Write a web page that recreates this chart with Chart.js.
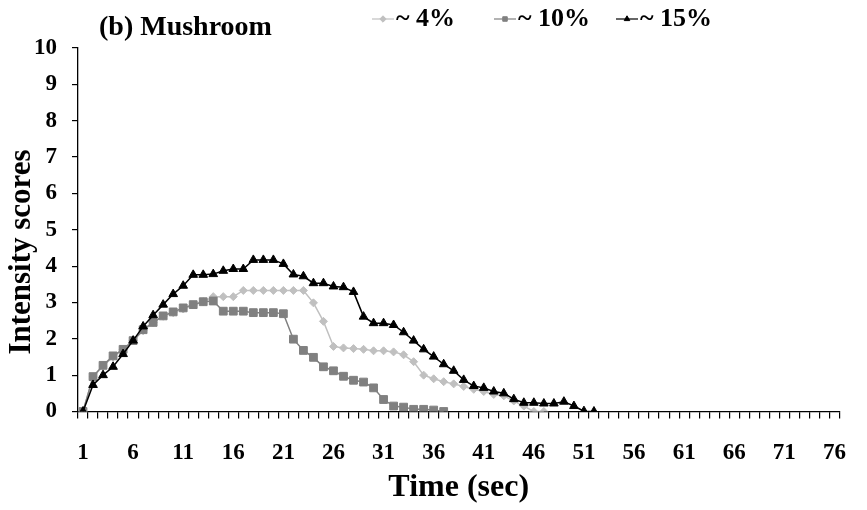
<!DOCTYPE html>
<html>
<head>
<meta charset="utf-8">
<script src="https://cdn.jsdelivr.net/npm/chart.js@4/dist/chart.umd.min.js"></script>
<style>
  html, body { margin: 0; padding: 0; background: #fff; }
  #wrap { width: 867px; height: 510px; }
</style>
</head>
<body>
<div id="wrap"><canvas id="c" width="867" height="510"></canvas></div>
<script>
// Time points (seconds)
const timeLabels = ['1','2','3','4','5','6','7','8','9','10','11','12','13','14','15','16','17','18','19','20',
  '21','22','23','24','25','26','27','28','29','30','31','32','33','34','35','36','37','38','39','40',
  '41','42','43','44','45','46','47','48','49','50','51','52','53','54','55','56','57','58','59','60',
  '61','62','63','64','65','66','67','68','69','70','71','72','73','74','75','76'];

// Series names
const seriesNames = ['~ 4%', '~ 10%', '~ 15%'];

// Mean intensity scores per second
const salt4 = [0, 0.95, 1.25, 1.50, 1.70, 1.95, 2.22, 2.45, 2.62, 2.72,
  2.82, 2.93, 3.02, 3.16, 3.16, 3.16, 3.33, 3.33, 3.33, 3.33,
  3.33, 3.33, 3.33, 2.99, 2.48, 1.79, 1.75, 1.73, 1.71, 1.67,
  1.67, 1.64, 1.56, 1.37, 1.00, 0.90, 0.82, 0.76, 0.69, 0.61,
  0.55, 0.47, 0.43, 0.29, 0.15, 0, 0];

const salt10 = [0, 0.96, 1.27, 1.53, 1.71, 1.95, 2.25, 2.45, 2.63, 2.74,
  2.85, 2.94, 3.02, 3.04, 2.76, 2.76, 2.76, 2.72, 2.72, 2.72,
  2.69, 1.99, 1.68, 1.49, 1.23, 1.12, 0.97, 0.86, 0.81, 0.65,
  0.33, 0.15, 0.12, 0.06, 0.06, 0.04, 0];

const salt15 = [0, 0.73, 1.00, 1.23, 1.58, 1.95, 2.34, 2.65, 2.94, 3.23,
  3.46, 3.76, 3.76, 3.78, 3.87, 3.92, 3.92, 4.17, 4.17, 4.17,
  4.06, 3.77, 3.72, 3.53, 3.53, 3.44, 3.42, 3.29, 2.61, 2.43,
  2.43, 2.38, 2.18, 1.95, 1.71, 1.51, 1.30, 1.12, 0.87, 0.70,
  0.65, 0.55, 0.50, 0.34, 0.24, 0.24, 0.22, 0.22, 0.27, 0.15,
  0.01, 0];

const FONT = '"Liberation Serif", "Times New Roman", serif';

// Title, vertical axis title and legend drawn on the canvas
const decorations = {
  id: 'decorations',
  afterDraw(chart) {
    const ctx = chart.ctx;
    ctx.save();
    ctx.fillStyle = '#000';
    ctx.textBaseline = 'middle';

    ctx.font = 'bold 28px ' + FONT;
    ctx.textAlign = 'left';
    ctx.fillText('(b) Mushroom', 99, 28);

    ctx.save();
    ctx.translate(22, 252);
    ctx.rotate(-Math.PI / 2);
    ctx.textAlign = 'center';
    ctx.font = 'bold 31px ' + FONT;
    ctx.fillText('Intensity scores', 0, 0);
    ctx.restore();

    // legend: evenly spaced entries, short line with a marker, then the label
    ctx.font = 'bold 26px ' + FONT;
    const y = 19;
    chart.data.datasets.forEach((ds, i) => {
      const x = 372 + i * 122;
      ctx.strokeStyle = ds.borderColor;
      ctx.lineWidth = 1.2;
      ctx.beginPath();
      ctx.moveTo(x, y);
      ctx.lineTo(x + 22, y);
      ctx.stroke();
      ctx.fillStyle = ds.pointBackgroundColor;
      ctx.strokeStyle = ds.borderColor;
      ctx.lineWidth = 1;
      Chart.helpers.drawPoint(ctx, {
        pointStyle: ds.pointStyle, radius: 3.2, borderWidth: 1
      }, x + 11, y);
      ctx.fillStyle = '#000';
      ctx.textAlign = 'left';
      ctx.fillText(ds.label, x + 24, y);
    });
    ctx.restore();
  }
};

new Chart(document.getElementById('c'), {
  type: 'line',
  data: {
    labels: timeLabels,
    datasets: [
      {
        label: seriesNames[0], data: salt4, order: 3,
        borderColor: '#c0c0c0', backgroundColor: '#c0c0c0',
        pointBackgroundColor: '#c0c0c0', pointBorderColor: '#c0c0c0',
        pointStyle: 'rectRot', pointRadius: 4, borderWidth: 1.5, pointBorderWidth: 1
      },
      {
        label: seriesNames[1], data: salt10, order: 2,
        borderColor: '#808080', backgroundColor: '#808080',
        pointBackgroundColor: '#808080', pointBorderColor: '#808080',
        pointStyle: 'rect', pointRadius: 5.5, borderWidth: 1.5, pointBorderWidth: 1
      },
      {
        label: seriesNames[2], data: salt15, order: 1,
        borderColor: '#000000', backgroundColor: '#000000',
        pointBackgroundColor: '#000000', pointBorderColor: '#000000',
        pointStyle: 'triangle', pointRadius: 5, borderWidth: 1.5, pointBorderWidth: 1
      }
    ]
  },
  options: {
    responsive: false,
    devicePixelRatio: 1,
    animation: false,
    layout: { padding: { left: 0, right: 14, top: 48, bottom: 0 } },
    plugins: {
      legend: { display: false },
      tooltip: { enabled: false },
      title: { display: false }
    },
    elements: { line: { tension: 0 } },
    scales: {
      x: {
        type: 'category',
        offset: true,
        grid: {
          display: true, offset: true, drawOnChartArea: false, drawTicks: true,
          tickLength: 7, color: '#000', tickColor: '#000', tickWidth: 1.2, lineWidth: 1.2
        },
        border: { display: true, color: '#000', width: 1.3 },
        ticks: {
          autoSkip: false, maxRotation: 0, minRotation: 0,
          padding: 21, color: '#000',
          font: { family: FONT, size: 23, weight: 'bold' },
          callback: (v, i) => (i % 5 === 0 ? timeLabels[i] : '')
        },
        title: {
          display: true, text: 'Time (sec)', color: '#000',
          font: { family: FONT, size: 32, weight: 'bold' },
          padding: { top: 0, bottom: 3 }
        },
        afterFit: (s) => { s.height = 98.5; }
      },
      y: {
        min: 0, max: 10,
        grid: {
          display: true, drawOnChartArea: false, drawTicks: true, tickLength: 6,
          color: '#000', tickColor: '#000', tickWidth: 1.2, lineWidth: 1.2
        },
        border: { display: true, color: '#000', width: 1.3 },
        ticks: {
          stepSize: 1, padding: 15, color: '#000',
          font: { family: FONT, size: 23, weight: 'bold' }
        },
        afterFit: (s) => { s.width = 78; }
      }
    }
  },
  plugins: [decorations]
});
</script>
</body>
</html>
